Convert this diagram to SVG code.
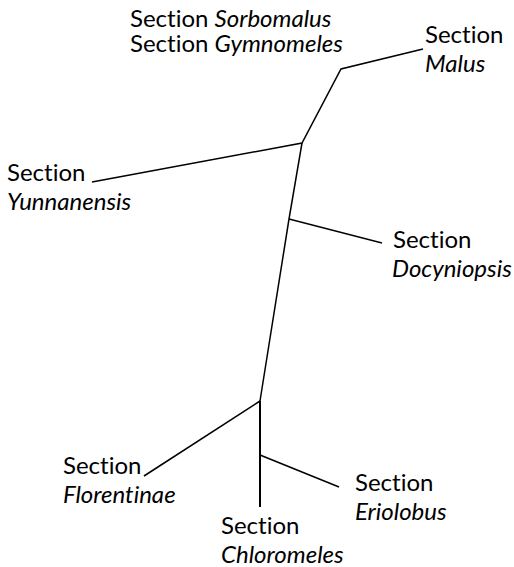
<svg xmlns="http://www.w3.org/2000/svg" width="514" height="567" viewBox="0 0 514 567">
<style>
text { font-family: Lato, "Liberation Sans", sans-serif; font-size: 24px; fill: #000; font-variant-ligatures: none; }
.i { font-style: italic; }
.e { stroke: #000; stroke-width: 1.5; fill: none; stroke-linecap: butt; }
</style>
<rect width="514" height="567" fill="#fff"/>
<g id="connectors">
<polyline class="e" points="423,49 341,69 302,143 92,182"/>
<polyline class="e" points="302,143 289,219 260,401"/>
<line class="e" x1="289" y1="219" x2="382" y2="243"/>
<line class="e" x1="260" y1="401" x2="144" y2="476"/>
<line class="e" x1="260" y1="401" x2="260" y2="507" style="stroke-width:2"/>
<line class="e" x1="260" y1="455" x2="339" y2="487"/>
</g>
<g id="sorbomalus-gymnomeles">
<text x="130" y="27">Section <tspan class="i">Sorbomalus</tspan></text>
<text x="130" y="52">Section <tspan class="i">Gymnomeles</tspan></text>
</g>
<g id="malus">
<text x="425" y="43">Section</text>
<text x="425" y="72" class="i">Malus</text>
</g>
<g id="yunnanensis">
<text x="7" y="181">Section</text>
<text x="7" y="210" class="i">Yunnanensis</text>
</g>
<g id="docyniopsis">
<text x="393" y="248">Section</text>
<text x="392" y="277" class="i">Docyniopsis</text>
</g>
<g id="florentinae">
<text x="63" y="474">Section</text>
<text x="63" y="503" class="i">Florentinae</text>
</g>
<g id="eriolobus">
<text x="355" y="491">Section</text>
<text x="355" y="520" class="i">Eriolobus</text>
</g>
<g id="chloromeles">
<text x="221" y="534">Section</text>
<text x="221" y="563" class="i">Chloromeles</text>
</g>
</svg>
